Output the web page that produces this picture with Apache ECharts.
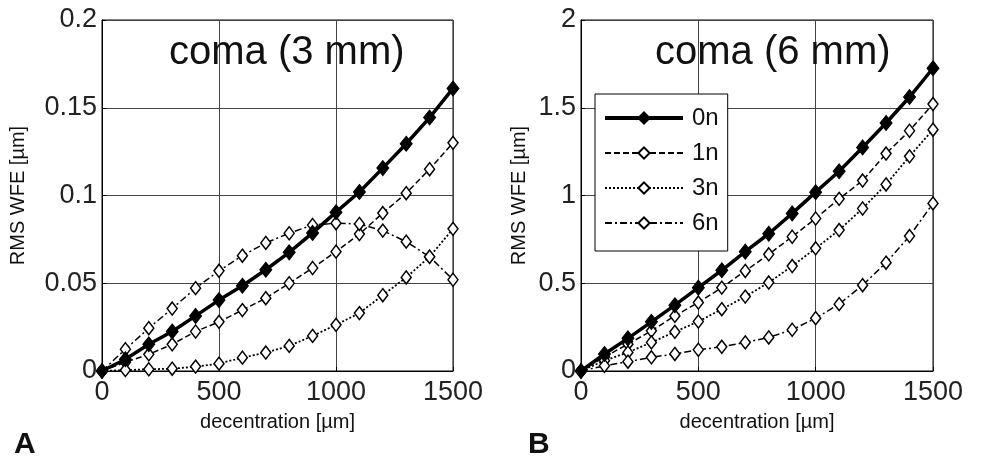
<!DOCTYPE html>
<html><head><meta charset="utf-8">
<script src="https://cdn.jsdelivr.net/npm/echarts@6/dist/echarts.min.js"></script>
<style>html,body{margin:0;padding:0;background:#fff}#c{width:982px;height:468px}</style>
</head><body><div id="c"></div>
<script>
var decentration = [0,100,200,300,400,500,600,700,800,900,1000,1100,1200,1300,1400,1500];
var seriesNames = ['0n','1n','3n','6n'];
// Panel A: coma (3 mm)
var a0n = [0,0.0067,0.0152,0.0225,0.0314,0.0404,0.0486,0.0577,0.0676,0.0787,0.0905,0.102,0.1156,0.1295,0.1444,0.161];
var a1n = [0,0.005,0.0095,0.0152,0.0225,0.028,0.0347,0.0415,0.05,0.0587,0.068,0.078,0.09,0.1013,0.115,0.13];
var a3n = [0,0.0005,0.001,0.0013,0.0025,0.0042,0.0076,0.0105,0.0143,0.02,0.0263,0.033,0.0432,0.0533,0.0651,0.081];
var a6n = [0,0.0124,0.0244,0.0356,0.0472,0.0571,0.0657,0.073,0.0785,0.0832,0.0842,0.0838,0.08,0.0737,0.0651,0.052];
// Panel B: coma (6 mm)
var b0n = [0,0.097,0.186,0.28,0.375,0.475,0.574,0.68,0.782,0.898,1.019,1.138,1.274,1.413,1.561,1.725];
var b1n = [0,0.08,0.153,0.229,0.314,0.39,0.475,0.57,0.665,0.765,0.869,0.981,1.085,1.239,1.369,1.521];
var b3n = [0,0.059,0.106,0.163,0.223,0.282,0.352,0.424,0.504,0.598,0.699,0.803,0.926,1.063,1.223,1.375];
var b6n = [0,0.03,0.053,0.078,0.097,0.121,0.138,0.163,0.191,0.235,0.301,0.381,0.489,0.617,0.769,0.955];
var yTicksA = [0,0.05,0.1,0.15,0.2];
var yTicksB = [0,0.5,1,1.5,2];
var xTicks = [0,500,1000,1500];

function pairs(ys){ return decentration.map(function(x,i){ return [x, ys[i]]; }); }

var styles = [
  {lineStyle:{color:'#000',width:3.5,type:'solid'}, symbolSize:[12,15], itemStyle:{color:'#000',borderColor:'#000',borderWidth:1}},
  {lineStyle:{color:'#000',width:1.5,type:[6,3]}, symbolSize:[10,13], itemStyle:{color:'#fff',borderColor:'#000',borderWidth:1.5}},
  {lineStyle:{color:'#000',width:1.8,type:[2,2]}, symbolSize:[10,13], itemStyle:{color:'#fff',borderColor:'#000',borderWidth:1.5}},
  {lineStyle:{color:'#000',width:1.5,type:[7,3,2,3]}, symbolSize:[10,13], itemStyle:{color:'#fff',borderColor:'#000',borderWidth:1.5}}
];
var dataA = [a0n,a1n,a3n,a6n];
var dataB = [b0n,b1n,b3n,b6n];
var series = [];
[1,2,3,0].forEach(function(k){
  series.push(Object.assign({type:'line', name:seriesNames[k], xAxisIndex:0, yAxisIndex:0, data:pairs(dataA[k]), symbol:'diamond', showSymbol:true, animation:false, z: k===0?5:3}, JSON.parse(JSON.stringify(styles[k]))));
});
[0,1,2,3].forEach(function(k){
  series.push(Object.assign({type:'line', name:seriesNames[k], xAxisIndex:1, yAxisIndex:1, data:pairs(dataB[k]), symbol:'diamond', showSymbol:true, animation:false, z: k===0?5:3}, JSON.parse(JSON.stringify(styles[k]))));
});

var FONT = '"Liberation Sans", Arial, sans-serif';
function xAxis(idx){
  return {type:'value', gridIndex:idx, min:xTicks[0], max:xTicks[xTicks.length-1], interval:500,
    name:'decentration [\u00b5m]', nameLocation:'middle', nameGap:41,
    nameTextStyle:{fontSize:20, color:'#111', fontFamily:FONT},
    axisLine:{show:true, onZero:false, lineStyle:{color:'#000',width:1}},
    axisTick:{show:true, inside:true, length:4, lineStyle:{color:'#000'}},
    axisLabel:{fontSize:27, color:'#222', margin:8, fontFamily:FONT, formatter:function(v){return String(v);}},
    splitLine:{show:true, lineStyle:{color:'#444',width:1}}};
}
function yAxis(idx, ticks, gap){
  return {type:'value', gridIndex:idx, min:ticks[0], max:ticks[ticks.length-1], interval:ticks[1]-ticks[0],
    name:'RMS WFE [\u00b5m]', nameLocation:'middle', nameGap:gap,
    nameTextStyle:{fontSize:20, color:'#111', fontFamily:FONT},
    axisLine:{show:true, onZero:false, lineStyle:{color:'#000',width:1}},
    axisTick:{show:true, inside:true, length:4, lineStyle:{color:'#000'}},
    axisLabel:{fontSize:27, color:'#222', margin:5, fontFamily:FONT, formatter:function(v){return String(+v.toFixed(4));}},
    splitLine:{show:true, lineStyle:{color:'#444',width:1}}};
}

var chart = echarts.init(document.getElementById('c'), null, {renderer:'canvas'});
chart.setOption({
  backgroundColor:'#fff',
  animation:false,
  title:[
    {text:'coma (3 mm)', left:169, top:33, padding:0, textStyle:{fontSize:40, fontWeight:'normal', color:'#111', fontFamily:FONT}},
    {text:'coma (6 mm)', left:655, top:33, padding:0, textStyle:{fontSize:40, fontWeight:'normal', color:'#111', fontFamily:FONT}},
    {text:'A', left:14, top:430, padding:0, textStyle:{fontSize:30, fontWeight:'bold', color:'#111', fontFamily:FONT}},
    {text:'B', left:528, top:430, padding:0, textStyle:{fontSize:30, fontWeight:'bold', color:'#111', fontFamily:FONT}}
  ],
  grid:[
    {left:102, top:20, width:351, height:351, show:true, borderColor:'#000', borderWidth:1, backgroundColor:'transparent'},
    {left:581, top:20, width:352, height:351, show:true, borderColor:'#000', borderWidth:1, backgroundColor:'transparent'}
  ],
  xAxis:[xAxis(0), xAxis(1)],
  yAxis:[yAxis(0, yTicksA, 74), yAxis(1, yTicksB, 52)],
  legend:{
    data:[
      {name:'0n', lineStyle:{width:4}},
      {name:'1n'},
      {name:'3n'},
      {name:'6n'}
    ],
    orient:'vertical', left:595, top:94,
    itemWidth:78, itemHeight:14, itemGap:11,
    padding:[12,9,16,8],
    backgroundColor:'#fff', borderColor:'#000', borderWidth:1,
    textStyle:{fontSize:24, color:'#111', fontFamily:FONT, lineHeight:24, padding:[0,0,0,4]},
    selectedMode:false
  },
  series:series
});
</script></body></html>
